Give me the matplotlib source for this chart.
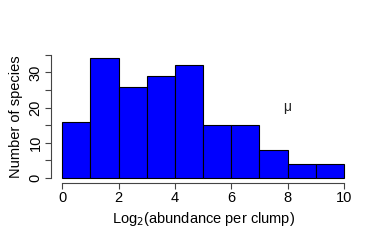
import matplotlib
matplotlib.use('Agg')
import matplotlib.pyplot as plt
import numpy as np

# histogram bins and counts (log2 abundance per clump)
bin_edges = [0, 1, 2, 3, 4, 5, 6, 7, 8, 9, 10]
counts = [16, 34, 26, 29, 32, 15, 15, 8, 4, 4]

x_ticks = [0, 2, 4, 6, 8, 10]
y_ticks = [0, 5, 10, 15, 20, 25, 30, 35]
y_labels = ['0', '', '10', '', '20', '', '30', '']

plt.rcParams['font.family'] = ['Liberation Sans', 'DejaVu Sans']

fig = plt.figure(figsize=(3.81, 2.47), dpi=100)
ax = fig.add_axes([0.134, 0.259, 0.798, 0.539])

edges = np.array(bin_edges)
ax.bar(edges[:-1], counts, width=np.diff(edges), align='edge',
       color='#0000FF', edgecolor='black', linewidth=0.8)

# R-style axes: 4% padding, detached spines
ax.set_xlim(-0.4, 10.4)
ax.set_ylim(-1.4, 36.4)
ax.spines['top'].set_visible(False)
ax.spines['right'].set_visible(False)
ax.spines['left'].set_bounds(0, 35)
ax.spines['bottom'].set_bounds(0, 10)
for s in ('left', 'bottom'):
    ax.spines[s].set_color('#444444')
    ax.spines[s].set_linewidth(0.8)

ax.set_xticks(x_ticks)
ax.set_xticklabels([str(t) for t in x_ticks])
ax.set_yticks(y_ticks)
ax.set_yticklabels(y_labels, rotation=90, va='center')
ax.tick_params(axis='both', length=4, width=0.8, color='#444444',
               labelsize=10.5, pad=2)

ax.set_xlabel('Log$_2$(abundance per clump)', fontsize=10.5, labelpad=3)
ax.set_ylabel('Number of species', fontsize=10.5, labelpad=4)

ax.text(8, 20.3, 'μ', ha='center', va='center', fontsize=10, color='#222222')

fig.savefig('out.png', dpi=100)
